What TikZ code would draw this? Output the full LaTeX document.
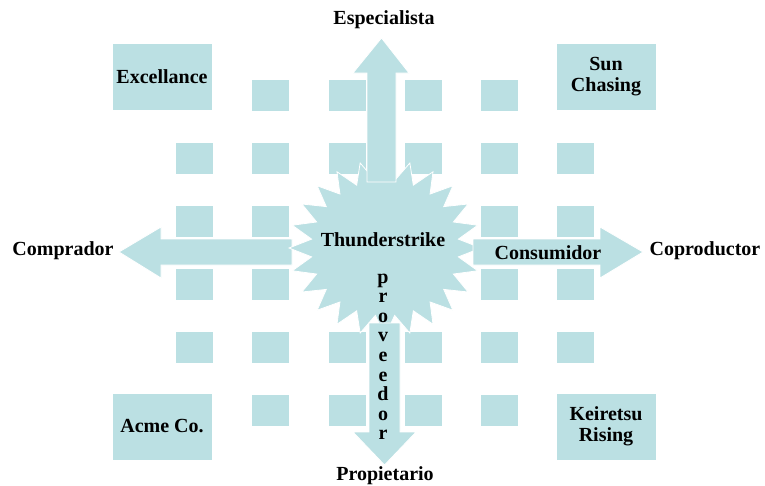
\documentclass[tikz,border=0pt]{standalone}
\usepackage{fontspec}
\setmainfont{Liberation Serif}
\definecolor{tilecol}{RGB}{187,224,227}
\begin{document}
\begin{tikzpicture}[x=1pt,y=-1pt,
  tile/.style={fill=tilecol, draw=white, line width=0.8pt},
  sq/.style={tile, minimum width=38pt, minimum height=32pt, inner sep=0pt},
  bigbox/.style={tile, minimum width=100pt, minimum height=67pt, inner sep=0pt, align=center,
     font=\fontsize{20}{20.5}\selectfont\bfseries},
  lbl/.style={inner sep=0pt, align=center, font=\fontsize{20}{20.5}\selectfont\bfseries}]
\useasboundingbox (0,0) rectangle (765,485);

% small squares (column centres 194,270,347,423,499,575; row centres 95,158,221,284,347,410)
\foreach \c/\x in {2/270,3/347,4/423,5/499} {
  \node[sq] (sA\c) at (\x,95) {};
  \node[sq] (sF\c) at (\x,410) {};
}
\foreach \c/\x in {1/194,2/270,3/347,4/423,5/499,6/575} {
  \node[sq] (sB\c) at (\x,158) {};
  \node[sq] (sE\c) at (\x,347) {};
}
\foreach \c/\x in {1/194,2/270,5/499,6/575} {
  \node[sq] (sC\c) at (\x,221) {};
  \node[sq] (sD\c) at (\x,284) {};
}

% corner boxes
\node[bigbox] (exc) at (162,76.5) {Excellance};
\node[bigbox] (sun) at (606,76.5) {Sun\\Chasing};
\node[bigbox] (acme) at (162,426.5) {Acme Co.};
\node[bigbox] (kei) at (606,426.5) {Keiretsu\\Rising};

% left arrow
\draw[tile] (292,239) -- (161,239) -- (161,227) -- (119,252) -- (161,278) -- (161,265) -- (292,265) -- cycle;

% star
\draw[tile] plot[samples at={0,...,47}, variable=\k]
  ({385 + (mod(\k,2)==0 ? 96 : 74)*cos(\k*7.5)}, {248 - (mod(\k,2)==0 ? 88 : 68)*sin(\k*7.5)}) -- cycle;

% up arrow
\draw[tile] (367,182) -- (367,73) -- (353,73) -- (381.5,38) -- (409,73) -- (396,73) -- (396,182) -- cycle;
% right arrow
\draw[tile] (473,239) -- (600,239) -- (600,227) -- (643,252) -- (600,278) -- (600,265) -- (473,265) -- cycle;
% down arrow
\draw[tile] (369,323) -- (369,432) -- (353,432) -- (384.5,465) -- (416,432) -- (400,432) -- (400,323) -- cycle;

% labels
\node[lbl] (esp) at (384,20) {Especialista};
\node[lbl] (comp) at (63,251) {Comprador};
\node[lbl] (copr) at (705,251) {Coproductor};
\node[lbl] (cons) at (548,253) {Consumidor};
\node[lbl] (thu) at (383,240) {Thunderstrike};
\node[lbl] (prop) at (385,476) {Propietario};
\foreach \l [count=\i from 0] in {p,r,o,v,e,e,d,o,r} {
  \node[lbl, anchor=base] (pv\i) at (383,{283+19.6*\i}) {\l};
}
\end{tikzpicture}
\end{document}
